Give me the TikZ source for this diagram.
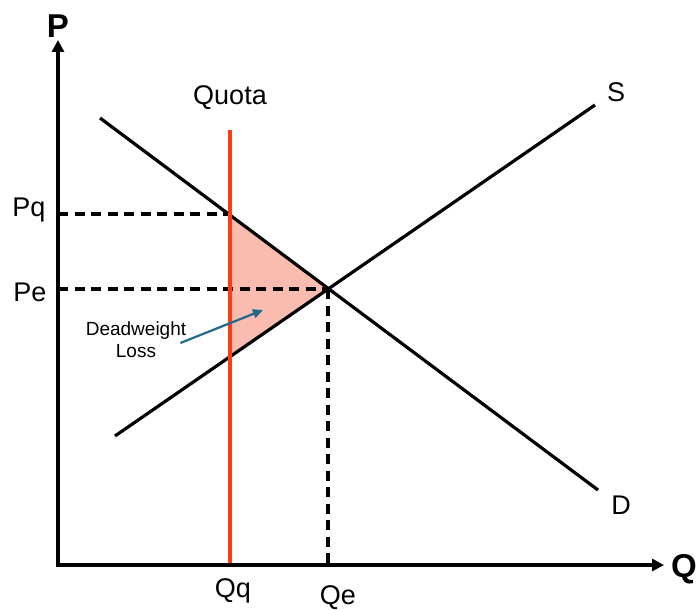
\documentclass[tikz,border=0pt]{standalone}
\usepackage{fontspec}
\setmainfont{Liberation Sans}
\usetikzlibrary{arrows.meta,positioning,calc}
\definecolor{quotared}{HTML}{FF3C14}
\definecolor{dwlfill}{HTML}{F9BCAE}
\definecolor{dwlarrow}{HTML}{1F6A8A}

\begin{document}
\begin{tikzpicture}[x=1pt,y=-1pt,>=Triangle,
   axis/.style={line width=4.2pt,-{Triangle[length=12pt,width=12pt]}},
   curve/.style={line width=3.2pt},
   guide/.style={line width=3.2pt,dash pattern=on 10pt off 6.5pt},
   lbl/.style={font=\fontsize{27}{30}\selectfont,inner sep=0pt},
   axlbl/.style={font=\fontsize{33}{36}\selectfont\bfseries,inner sep=0pt}]
  \useasboundingbox (0,0) rectangle (697,610);
  % points
  \coordinate (O) at (58,565);
  \coordinate (Ptop) at (58,40);
  \coordinate (Qend) at (664,565);
  \coordinate (S0) at (115,436);
  \coordinate (S1) at (595,105);
  \coordinate (D0) at (100,118);
  \coordinate (D1) at (598,490);
  \coordinate (E) at (328,289);
  \coordinate (QuotaTop) at (230,130);
  \coordinate (QuotaBot) at (230,565);
  \coordinate (Apq) at (230,214);
  \coordinate (Bs) at (230,357);
  \coordinate (DWLtip) at (263,310);
  % deadweight loss
  \fill[dwlfill] (Apq) -- (E) -- (Bs) -- cycle;
  % guides
  \draw[guide] (Apq -| O) -- (Apq);
  \draw[guide] (E -| O) -- (E);
  \draw[guide] (E) -- (E |- O);
  % curves
  \draw[curve] (S0) -- (S1);
  \draw[curve] (D0) -- (D1);
  \draw[line width=3.2pt,quotared] (QuotaTop) -- (QuotaBot);
  % axes
  \draw[axis] (O) -- (Ptop);
  \draw[axis] ($(O)+(-2.1,0)$) -- (Qend);
  % labels
  \node[axlbl] (P) at (58,26) {P};
  \node[axlbl] (Q) at (684,569) {Q};
  \node[lbl] (Slbl) at (616,92) {S};
  \node[lbl] (Dlbl) at (621,505) {D};
  \node[lbl] (Quota) at (230,98) {Quota};
  \node[lbl] (Pq) at (29,210) {Pq};
  \node[lbl] (Pe) at (30,292) {Pe};
  \node[lbl] (Qq) at (233,591) {Qq};
  \node[lbl] (Qe) at (338,598) {Qe};
  \node[font=\fontsize{19}{22}\selectfont,align=center,inner sep=0pt] (DWL) at (136,340) {Deadweight\\Loss};
  \draw[dwlarrow,line width=2.2pt,-{Triangle[length=10pt,width=9pt]}] ($(DWL.east)+(-6,3)$) -- (DWLtip);
\end{tikzpicture}
\end{document}
